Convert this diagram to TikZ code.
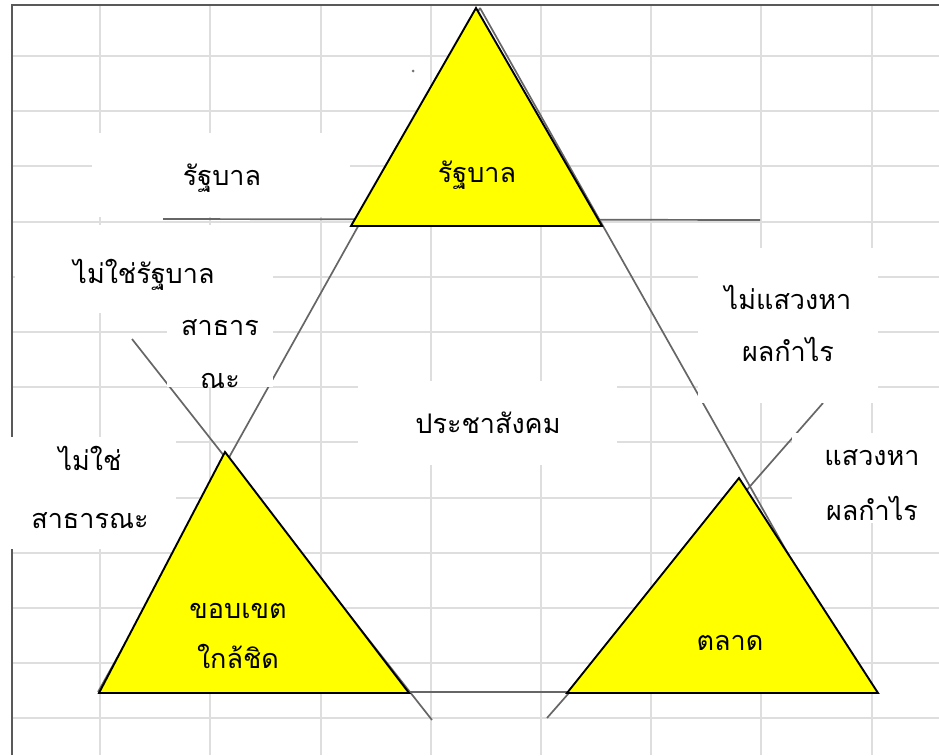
\documentclass[tikz,border=0pt]{standalone}
\usepackage{fontspec}
\newfontfamily\thaifont[Script=Thai]{Loma}
\definecolor{triyellow}{RGB}{255,255,0}
\begin{document}
\begin{tikzpicture}[x=1pt,y=-1pt,
  gridline/.style={draw=black!13,line width=2pt},
  frameline/.style={draw=black!65,line width=2pt},
  grayline/.style={draw=black!60,line width=1.7pt},
  yellowtri/.style={fill=triyellow,draw=black,line width=1.9pt,line join=miter},
  whitebox/.style={fill=white},
  lbl/.style={font=\thaifont\fontsize{27}{27}\selectfont,anchor=base,inner sep=0pt}]
\useasboundingbox (0,0) rectangle (939,755);
% background grid
\foreach \gx in {100,210.2,320.5,430.7,541,651.2,761.4,871.6}
  \draw[gridline] (\gx,5) -- (\gx,755);
\foreach \gy in {56,111.2,166.4,221.6,276.8,332,387.2,442.4,497.6,552.8,608,663.2,718.4}
  \draw[gridline] (12,\gy) -- (939,\gy);
% frame
\draw[frameline] (12,755) -- (12,5) -- (939,5);
% named points of the big lines
\coordinate (apex) at (480,8);
\coordinate (bl) at (98,692);
\coordinate (br) at (866,692);
\coordinate (hl) at (163,219);
\coordinate (hr) at (760,220);
\coordinate (d1a) at (132,339);
\coordinate (d1b) at (432,720);
\coordinate (d2a) at (547,718);
\coordinate (d2b) at (823,403);
\draw[grayline] (apex) -- (bl);
\draw[grayline] (apex) -- (br);
\draw[grayline] (bl) -- (br);
\draw[grayline] (hl) -- (hr);
\draw[grayline] (d1a) -- (d1b);
\draw[grayline] (d2a) -- (d2b);
\fill[black!55] (413,71) circle (1.5);
% white boxes
\fill[whitebox] (92,133) rectangle (350,217);
\fill[whitebox] (15,225) rectangle (273,313);
\fill[whitebox] (167,313) rectangle (273,387);
\fill[whitebox] (0,437) rectangle (176,549);
\fill[whitebox] (358,381) rectangle (617,465);
\fill[whitebox] (698,248) rectangle (878,403);
\fill[whitebox] (792,433) rectangle (939,523);
% yellow triangles
\filldraw[yellowtri] (476,8) -- (602,226) -- (351,226) -- cycle;
\filldraw[yellowtri] (225,452) -- (409,693) -- (99,693) -- cycle;
\filldraw[yellowtri] (739,478) -- (878,693) -- (567,693) -- cycle;
% labels
\node[lbl] (govL) at (222,185) {รัฐบาล};
\node[lbl] (govT) at (477,182) {รัฐบาล};
\node[lbl] (nongov) at (144,283) {ไม่ใช่รัฐบาล};
\node[lbl] (pub1) at (220,335) {สาธาร};
\begin{scope}
\clip (167,313) rectangle (273,387);
\node[lbl] (pub2) at (220,388) {ณะ};
\end{scope}
\node[lbl] (np1) at (90,470) {ไม่ใช่};
\node[lbl] (np2) at (90,528) {สาธารณะ};
\node[lbl] (civil) at (488,433) {ประชาสังคม};
\node[lbl] (nprofit1) at (788,309) {ไม่แสวงหา};
\node[lbl] (nprofit2) at (788,361) {ผลกำไร};
\node[lbl] (profit1) at (872,465) {แสวงหา};
\node[lbl] (profit2) at (872,520) {ผลกำไร};
\node[lbl] (close1) at (238,618) {ขอบเขต};
\node[lbl] (close2) at (238,668) {ใกล้ชิด};
\node[lbl] (market) at (730,650) {ตลาด};
\end{tikzpicture}
\end{document}
